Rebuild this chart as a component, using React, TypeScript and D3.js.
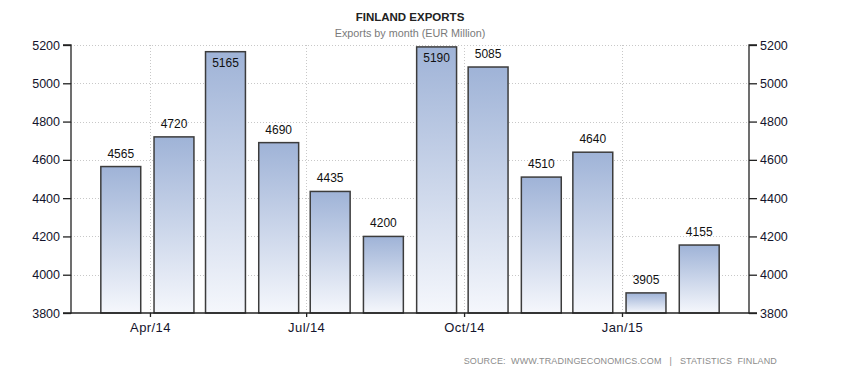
import React, { useEffect, useRef } from 'react';
import * as d3 from 'd3';

// month of each bar (plotted at the middle of the month)
const months = [
  '2014-03-15', '2014-04-15', '2014-05-15', '2014-06-15', '2014-07-15', '2014-08-15',
  '2014-09-15', '2014-10-15', '2014-11-15', '2014-12-15', '2015-01-15', '2015-02-15',
];
const exportsEur = [4565, 4720, 5165, 4690, 4435, 4200, 5190, 5085, 4510, 4640, 3905, 4155];

const xTickDates = ['2014-04-01', '2014-07-01', '2014-10-01', '2015-01-01'];
const xTickLabels = ['Apr/14', 'Jul/14', 'Oct/14', 'Jan/15'];
const yTicks = [3800, 4000, 4200, 4400, 4600, 4800, 5000, 5200];

const W = 866;
const H = 372;
const FONT = "'Liberation Sans', Arial, sans-serif";

export default function App() {
  const svgRef = useRef<SVGSVGElement>(null);

  useEffect(() => {
    if (!svgRef.current) return;
    const svg = d3.select(svgRef.current);
    svg.selectAll('*').remove();

    const left = 71, right = 749, top = 45, bottom = 313;
    const parse = d3.timeParse('%Y-%m-%d');
    const dates = months.map(m => parse(m)!);

    const x = d3.scaleTime()
      .domain([new Date(2014, 1, 14), new Date(2015, 2, 16)])
      .range([left, right]);
    const y = d3.scaleLinear().domain([3800, 5200]).range([bottom, top]);

    const defs = svg.append('defs');
    const grad = defs.append('linearGradient')
      .attr('id', 'barGrad')
      .attr('x1', 0).attr('y1', 0).attr('x2', 0).attr('y2', 1);
    grad.append('stop').attr('offset', '0%').attr('stop-color', '#9fb3d7');
    grad.append('stop').attr('offset', '100%').attr('stop-color', '#f5f7fc');

    // title
    svg.append('text')
      .attr('x', 410).attr('y', 21)
      .attr('text-anchor', 'middle')
      .attr('font-family', FONT).attr('font-size', 11.5).attr('font-weight', 'bold')
      .attr('fill', '#222')
      .text('FINLAND EXPORTS');
    svg.append('text')
      .attr('x', 410).attr('y', 37)
      .attr('text-anchor', 'middle')
      .attr('font-family', FONT).attr('font-size', 10.8)
      .attr('fill', '#7a7a7a')
      .text('Exports by month (EUR Million)');

    // grid
    const grid = svg.append('g')
      .attr('stroke', '#c8c8c8').attr('stroke-dasharray', '1,2').attr('stroke-width', 1);
    yTicks.slice(1).forEach(t => {
      grid.append('line')
        .attr('x1', left).attr('x2', right)
        .attr('y1', Math.round(y(t)) + 0.5).attr('y2', Math.round(y(t)) + 0.5);
    });
    xTickDates.forEach(d => {
      const xx = Math.round(x(parse(d)!)) + 0.5;
      grid.append('line').attr('x1', xx).attr('x2', xx).attr('y1', top).attr('y2', bottom);
    });

    // bars
    const barW = (x(dates[1]) - x(dates[0])) * 0.75;
    svg.append('g')
      .selectAll('rect')
      .data(exportsEur)
      .enter()
      .append('rect')
      .attr('x', (_, i) => x(dates[i]) - barW / 2)
      .attr('y', d => y(d))
      .attr('width', barW)
      .attr('height', d => bottom - y(d))
      .attr('fill', 'url(#barGrad)')
      .attr('stroke', '#3c3c3c')
      .attr('stroke-width', 1.5);

    // value labels
    svg.append('g')
      .selectAll('text')
      .data(exportsEur)
      .enter()
      .append('text')
      .attr('x', (_, i) => x(dates[i]))
      .attr('y', d => (y(d) - 20 < top ? y(d) + 15 : y(d) - 9))
      .attr('text-anchor', 'middle')
      .attr('font-family', FONT).attr('font-size', 12)
      .attr('fill', '#111')
      .text(d => String(d));

    // axes
    const yLeft = d3.axisLeft(y).tickValues(yTicks).tickSize(8).tickPadding(3).tickFormat(d3.format('d'));
    const yRight = d3.axisRight(y).tickValues(yTicks).tickSize(8).tickPadding(3).tickFormat(d3.format('d'));
    const xAxis = d3.axisBottom(x)
      .tickValues(xTickDates.map(d => parse(d)!))
      .tickSize(4).tickPadding(6)
      .tickFormat((_, i) => xTickLabels[i]);

    const styleAxis = (g: d3.Selection<SVGGElement, unknown, null, undefined>) => {
      g.selectAll('.domain').attr('stroke', '#222').attr('stroke-width', 1.3);
      g.selectAll('.tick line').attr('stroke', '#222').attr('stroke-width', 1.3);
      g.selectAll('.tick text')
        .attr('font-family', FONT).attr('font-size', 12.5).attr('fill', '#14142c');
    };

    svg.append('g').attr('transform', `translate(${left},0)`).call(yLeft).call(styleAxis)
      .call(g => g.select('.domain').attr('d', `M-8,${top}H0V${bottom}H-8`));
    svg.append('g').attr('transform', `translate(${right},0)`).call(yRight).call(styleAxis)
      .call(g => g.select('.domain').attr('d', `M8,${top}H0V${bottom}H8`));
    svg.append('g').attr('transform', `translate(0,${bottom})`).call(xAxis).call(styleAxis)
      .call(g => g.select('.domain').attr('d', `M${left},0H${right}`))
      .call(g => g.selectAll('.tick text').attr('font-size', 13).attr('letter-spacing', 0.4));

    // source
    svg.append('text')
      .attr('x', 777).attr('y', 364)
      .attr('text-anchor', 'end')
      .attr('font-family', FONT).attr('font-size', 9).attr('letter-spacing', 0.15)
      .attr('fill', '#8c8c8c')
      .style('white-space', 'pre')
      .text('SOURCE:  WWW.TRADINGECONOMICS.COM   |   STATISTICS  FINLAND');
  }, []);

  return (
    <svg
      ref={svgRef}
      width={W}
      height={H}
      style={{ position: 'absolute', left: 0, top: 0, background: '#fff' }}
    />
  );
}
